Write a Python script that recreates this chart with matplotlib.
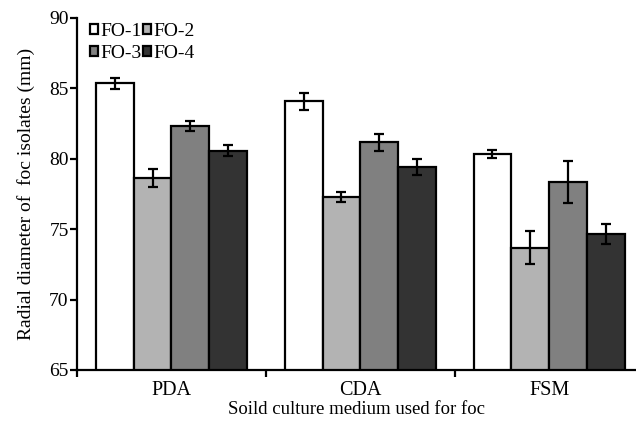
import matplotlib.pyplot as plt
import numpy as np

plt.rcParams['font.family'] = ['Liberation Serif', 'DejaVu Serif']

media = ['PDA', 'CDA', 'FSM']
isolates = ['FO-1', 'FO-2', 'FO-3', 'FO-4']
fo1 = [85.35, 84.07, 80.35]
fo2 = [78.67, 77.30, 73.69]
fo3 = [82.35, 81.17, 78.36]
fo4 = [80.58, 79.42, 74.66]
err1 = [0.38, 0.57, 0.30]
err2 = [0.64, 0.35, 1.19]
err3 = [0.35, 0.60, 1.50]
err4 = [0.37, 0.60, 0.69]

values = [fo1, fo2, fo3, fo4]
errors = [err1, err2, err3, err4]
colors = ['white', '#b3b3b3', '#808080', '#333333']

fig = plt.figure(figsize=(6.36, 4.30), dpi=100)
ax = fig.add_axes([77 / 636, 60 / 430, 1 - 77 / 636, 352 / 430])

x = np.arange(len(media))
w = 0.2
handles = []
for i in range(4):
    pos = x - 0.4 + w * (i + 0.5)
    b = ax.bar(pos, values[i], w, bottom=0, color=colors[i], edgecolor='black',
               linewidth=1.6, label=isolates[i], zorder=2)
    ax.errorbar(pos, values[i], yerr=errors[i], fmt='none', ecolor='black',
                elinewidth=1.6, capsize=3.3, capthick=1.6, zorder=3)
    handles.append(b)

ax.set_ylim(65, 90)
ax.set_xlim(-0.5, 2.46)
ax.set_yticks([65, 70, 75, 80, 85, 90])
ax.set_xticks([-0.5, 0.5, 1.5])
ax.set_xticklabels([])
ax.set_xticks(x, minor=True)
ax.set_xticklabels(media, minor=True)
ax.tick_params(axis='x', which='minor', length=0, labelsize=14.5, pad=8)
ax.tick_params(axis='x', which='major', direction='out', length=5, width=1.6)
ax.tick_params(axis='y', direction='out', length=5, width=1.6, labelsize=14, pad=1)

for s in ['top', 'right']:
    ax.spines[s].set_visible(False)
for s in ['left', 'bottom']:
    ax.spines[s].set_linewidth(1.6)

ax.set_ylabel('Radial diameter of  foc isolates (mm)', fontsize=14, labelpad=10)
ax.set_xlabel('Soild culture medium used for foc', fontsize=13.5, labelpad=1)

order = [0, 2, 1, 3]
leg = fig.legend([handles[k] for k in order], [isolates[k] for k in order],
                 ncol=2, loc='upper left', bbox_to_anchor=(90 / 636, 1 - 23 / 430),
                 frameon=False, fontsize=14, handlelength=0.4, handleheight=0.4,
                 handletextpad=0.12, columnspacing=0.1, labelspacing=0.25,
                 borderpad=0.0, borderaxespad=0)

fig.savefig('out.png', dpi=100)
